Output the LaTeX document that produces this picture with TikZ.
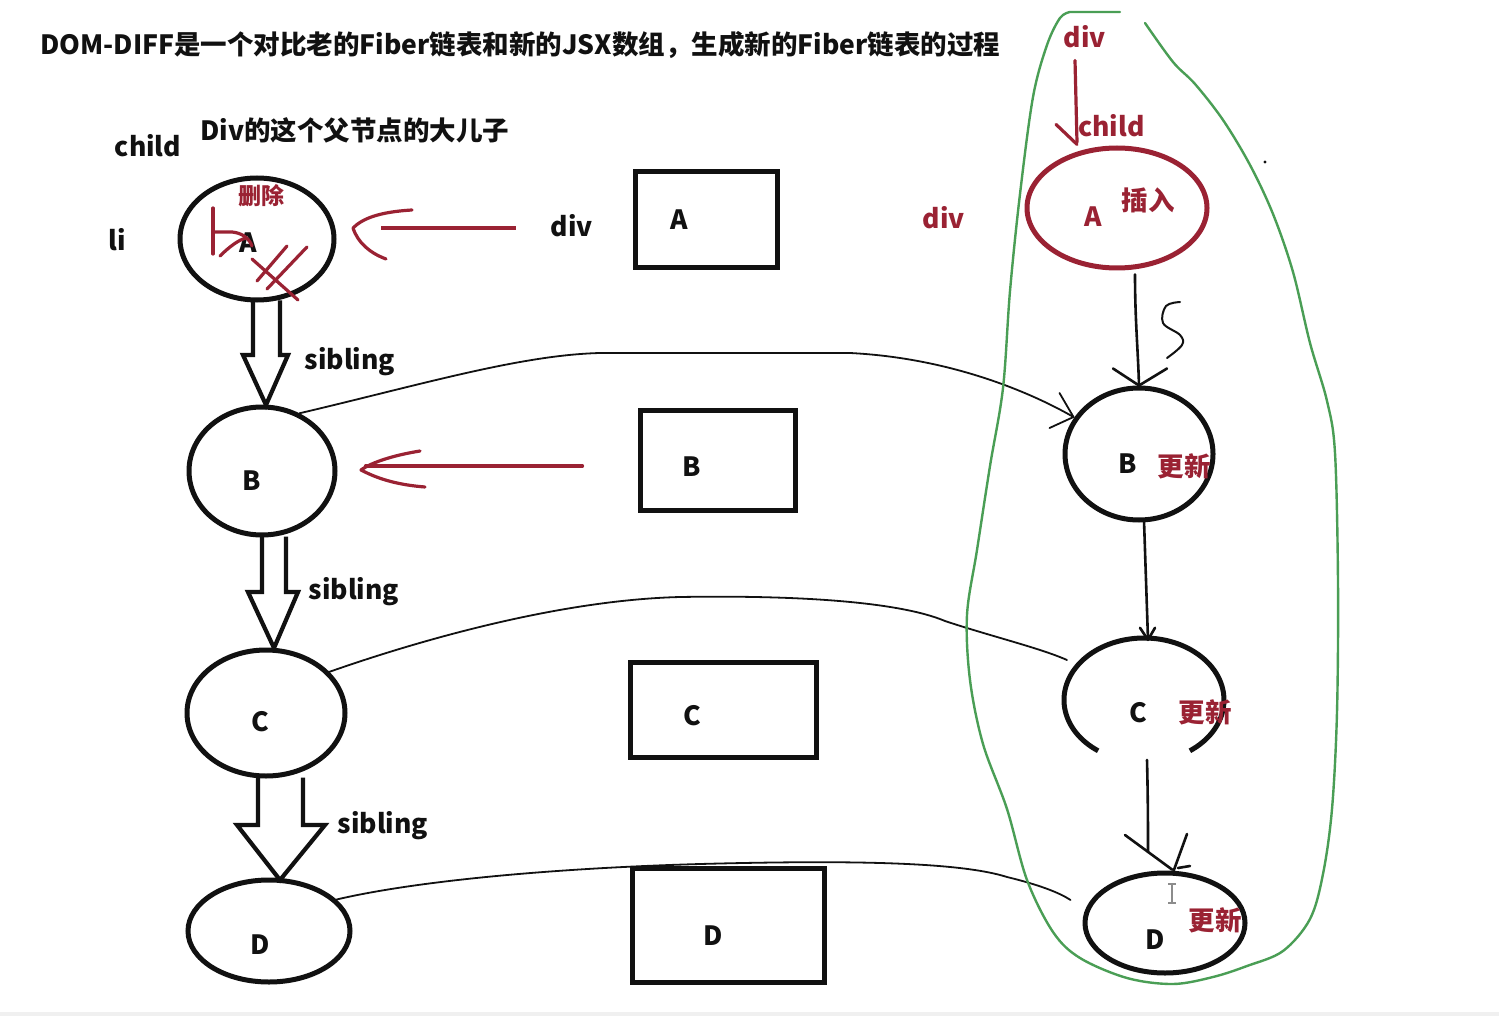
\documentclass[tikz,border=0pt]{standalone}
\usepackage{fontspec}
\setmainfont{Noto Sans CJK SC}
\usetikzlibrary{shapes.geometric,calc}
\definecolor{myred}{HTML}{9A2233}
\definecolor{mygreen}{HTML}{4A9E55}
\definecolor{ink}{HTML}{111111}
\begin{document}
\begin{tikzpicture}[x=1pt,y=-1pt,
  txt/.style={font=\fontsize{26.5}{28}\selectfont\bfseries, text=ink, inner sep=0pt},
  rtxt/.style={txt, text=myred},
  oval/.style={draw=ink, line width=5pt, ellipse, inner sep=0pt},
  roval/.style={draw=myred, line width=5pt, ellipse, inner sep=0pt},
  box/.style={draw=ink, line width=5pt, rectangle, inner sep=0pt},
  thinline/.style={draw=ink, line width=1.8pt, line cap=round, line join=round},
  pen/.style={draw=ink, line width=2.6pt, line cap=round, line join=round},
  hollow/.style={draw=ink, line width=4.2pt, line join=miter},
  redpen/.style={draw=myred, line width=3.2pt, line cap=round, line join=round},
  greenpen/.style={draw=mygreen, line width=2.4pt, line cap=round, line join=round},
  ]
\useasboundingbox[fill=white] (0,0) rectangle (1499,1016);
\fill[black!6] (0,1012) rectangle (1499,1016);

% ---------- title and labels ----------
\node[txt, anchor=west] (title) at (40,45) {DOM-DIFF是一个对比老的Fiber链表和新的JSX数组，生成新的Fiber链表的过程};
\node[txt] (childL) at (148,146) {child};
\node[txt, anchor=west] (bigson) at (200,130) {Div的这个父节点的大儿子};
\node[txt] (li) at (117,240) {li};

% ---------- old fiber list (left) ----------
\node[oval, minimum width=154, minimum height=122] (oA) at (257,239) {};
\node[oval, minimum width=146, minimum height=128] (oB) at (262,471) {};
\node[oval, minimum width=158, minimum height=126] (oC) at (266,713) {};
\node[oval, minimum width=162, minimum height=102] (oD) at (269,931) {};
\node[txt] (tA) at (248,243) {A};
\node[txt] (tB) at (252,481) {B};
\node[txt] (tC) at (260,722) {C};
\node[txt] (tD) at (260,945) {D};
\node[rtxt, font=\fontsize{23}{25}\selectfont\bfseries] (del) at (261,196) {删除};

% red strikes on A
\draw[redpen] (213,208) -- (213,254);
\draw[redpen] (213,232) -- (232,232) .. controls (242,233) and (249,238) .. (252,246);
\draw[redpen] (220,256) .. controls (228,248) and (238,240) .. (246,238);
\draw[redpen] (252,259) -- (298,300);
\draw[redpen] (257,281) -- (287,246);
\draw[redpen] (267,289) -- (307,247);

% hollow sibling arrows
\draw[hollow] ($(oA.south)+(-4,-2)$) -- (253,355) -- (243,355) -- (266,405) -- (288,355) -- (280,355) -- ($(oA.south)+(23,-2)$);
\draw[hollow] ($(oB.south)+(0,-1)$) -- (262,592) -- (248,592) -- (274,648) -- (298,592) -- (286,592) -- ($(oB.south)+(24,-1)$);
\draw[hollow] ($(oC.south)+(-8,-1)$) -- (258,825) -- (237,825) -- (280,880) -- (325,825) -- (303,825) -- ($(oC.south)+(37,-1)$);
\node[txt] (sib1) at (350,362) {sibling};
\node[txt] (sib2) at (354,592) {sibling};
\node[txt] (sib3) at (383,826) {sibling};

% ---------- new JSX array (middle) ----------
\node[txt] (divM) at (572,226) {div};
\node[box, minimum width=142, minimum height=96] (bA) at (706,220) {};
\node[box, minimum width=155, minimum height=100] (bB) at (717.5,460) {};
\node[box, minimum width=186, minimum height=95] (bC) at (723,709.5) {};
\node[box, minimum width=192, minimum height=114] (bD) at (728,925) {};
\node[txt] (tbA) at (679,220) {A};
\node[txt] (tbB) at (692,467) {B};
\node[txt] (tbC) at (692,716) {C};
\node[txt] (tbD) at (713,936) {D};
\node[rtxt] (divR) at (944,218) {div};

% red arrows into old fibers
\draw[draw=myred, line width=4pt] ($(divM.west)+(-35,2)$) -- ($(oA.east)+(44,-11)$);
\draw[redpen] (412,210) .. controls (378,212) and (362,219) .. (353,228) .. controls (358,243) and (370,253) .. (386,259);
\draw[redpen] ($(bB.west)+(-55,6)$) -- ($(oB.east)+(28,-5)$);
\draw[redpen] (420,451) .. controls (395,455) and (372,462) .. (361,470) .. controls (380,480) and (400,485) .. (425,487);

% ---------- new fiber list (right) ----------
\node[rtxt] (divTop) at (1085,37) {div};
\node[rtxt, anchor=west] (childR) at (1078,126) {child};
\node[roval, minimum width=180, minimum height=120] (nA) at (1117,208) {};
\node[oval, minimum width=148, minimum height=132] (nB) at (1139,454) {};
\node[ellipse, minimum width=160, minimum height=124, inner sep=0pt] (nC) at (1144,700) {};
\node[oval, minimum width=160, minimum height=100] (nD) at (1165,923) {};
\draw[draw=ink, line width=5pt] ($(nC.center)+(125:80 and 62)$) arc[start angle=125, end angle=415, x radius=80, y radius=62];

\node[rtxt] (tnA) at (1093,217) {A};
\node[rtxt] (ins) at (1148,200) {插入};
\node[txt] (tnB) at (1128,464) {B};
\node[rtxt] (updB) at (1184,466) {更新};
\node[txt] (tnC) at (1138,713) {C};
\node[rtxt] (updC) at (1205,712) {更新};
\node[txt] (tnD) at (1155,940) {D};
\node[rtxt] (updD) at (1215,920) {更新};

% div -> child (red)
\draw[redpen] ($(divTop.south)+(-10,12)$) -- ($(divTop.south)+(-8,94)$);
\draw[redpen] ($(divTop.south)+(-29,76)$) -- ($(divTop.south)+(-8,96)$);

% A -> B
\draw[pen] ($(nA.south)+(18,4)$) .. controls (1135,320) and (1138,350) .. (nB.north);
\draw[pen] ($(nB.north)+(-26,-17)$) -- (nB.north) -- ($(nB.north)+(28,-17)$);
\draw[pen, line width=2pt] plot[smooth, tension=0.6] coordinates {(1180,302) (1166,306) (1163,323) (1180,335) (1182,345) (1167,358)};

% B -> C
\draw[pen] ($(nB.south)+(5,-2)$) -- ($(nC.north)+(4,2)$);
\draw[pen] ($(nC.north)+(-4,-10)$) -- ($(nC.north)+(4,2)$) -- ($(nC.north)+(11,-10)$);

% C -> D
\draw[pen] ($(nC.center)+(3,60)$) .. controls (1148,800) and (1148,830) .. (1148,852);
\draw[pen] (1125,835) -- ($(nD.north)+(7,-1)$);
\draw[pen] (1187,834) -- (1179,856) -- ($(nD.north)+(8,2)$);
\draw[pen] (1178,868) -- (1190,866);

% cursor
\draw[black!45, line width=1.3pt] (1172,884) -- (1172,903) (1168,884) -- (1176,884) (1168,903) -- (1176,903);
\fill[ink] (1265,162) circle (1.6);

% ---------- thin connectors old -> new ----------
\draw[thinline] (oB.57) .. controls (420,385) and (520,355) .. (600,353) -- (850,353) .. controls (950,358) and (1030,392) .. ($(nB.west)+(11,-37)$);
\draw[thinline] ($(nB.west)+(-3,-61)$) -- ($(nB.west)+(11,-37)$) -- ($(nB.west)+(-13,-26)$);
\draw[thinline] (oC.33) .. controls (420,640) and (560,600) .. (680,597) .. controls (800,595) and (900,602) .. (945,621) .. controls (990,636) and (1040,648) .. ($(nC.center)+(-77,-40)$);
\draw[thinline] (oD.25) .. controls (420,880) and (560,868) .. (700,864) .. controls (850,860) and (960,862) .. (1007,877) .. controls (1040,885) and (1060,893) .. ($(nD.west)+(-12,-23)$);

% ---------- green outline ----------
\draw[greenpen] plot[smooth, tension=0.55] coordinates {(1145,23) (1173,62) (1195,84) (1223,120) (1250,165) (1273,214) (1293,272) (1310,343) (1327,401) (1335,453) (1338,583) (1337,712) (1332,809) (1323,874) (1310,919) (1283,951) (1247,966) (1213,977) (1173,984) (1127,978) (1080,958) (1053,932) (1027,880) (1007,809) (983,744) (970,680) (967,615) (977,550) (990,466) (1003,388) (1010,291) (1020,194) (1033,97) (1047,45) (1060,18) (1070,12)} -- (1120,12);
\end{tikzpicture}
\end{document}
